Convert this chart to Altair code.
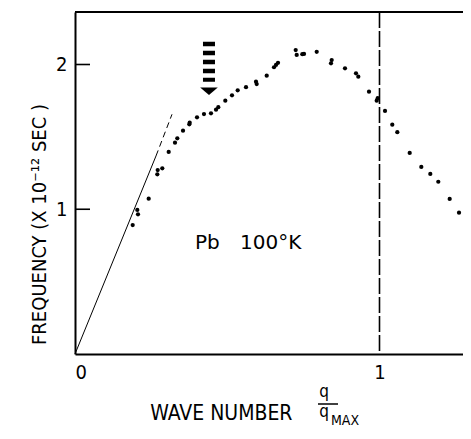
import altair as alt
import pandas as pd

# ---- data (q/qmax, frequency in 1e12 s^-1) ----
q_vals = [0.1895, 0.2046, 0.2069, 0.2420, 0.2703, 0.2716, 0.2867, 0.3077, 0.3284, 0.3360,
          0.3547, 0.3767, 0.3754, 0.4007, 0.4236, 0.4466, 0.4631, 0.4706, 0.4936, 0.5156,
          0.5343, 0.5616, 0.5944, 0.5967, 0.6296, 0.6535, 0.6601, 0.6667, 0.7248, 0.7281,
          0.7465, 0.7521, 0.7938, 0.8430, 0.8407, 0.8867, 0.9228, 0.9304, 0.9655, 0.9908,
          0.9941, 1.0181, 1.0420, 1.0585, 1.0992, 1.1373, 1.1668, 1.1931, 1.2305, 1.2611,
          1.2874]
f_vals = [0.891, 0.995, 0.965, 1.073, 1.241, 1.271, 1.283, 1.396, 1.460, 1.490,
          1.543, 1.598, 1.587, 1.635, 1.658, 1.663, 1.688, 1.705, 1.750, 1.787,
          1.822, 1.843, 1.881, 1.865, 1.923, 1.981, 1.997, 2.012, 2.100, 2.066,
          2.071, 2.073, 2.088, 2.031, 2.008, 1.974, 1.939, 1.916, 1.812, 1.750,
          1.767, 1.679, 1.584, 1.532, 1.389, 1.292, 1.244, 1.190, 1.071, 0.976,
          0.884]

# elastic (sound velocity) line: solid part and dashed continuation
solid_q = [0.0, 0.266]
solid_f = [0.0, 1.368]
dash_q = [0.266, 0.3186]
dash_f = [1.368, 1.656]

# zone boundary
zone_q = [1.0]

# arrow annotation (x, bar top, bar bottom, head)
arrow_q = [0.440]
arrow_top = [2.158]
arrow_bot = [1.881]
arrow_head = [1.8155]

# text annotation
label_texts = ["Pb", "100°K"]
label_q = [0.394, 0.542]
label_f = [0.725, 0.725]

x_ticks = [0, 1]
y_ticks = [1, 2]

W, H = 388, 342
X_MAX = W / 304.5
Y_MAX = H / 144.75

FONT = "DejaVu Sans Condensed, Liberation Sans Narrow, Roboto Condensed, DejaVu Sans, sans-serif"

xs = alt.Scale(domain=[0, X_MAX], nice=False, zero=False)
ys = alt.Scale(domain=[0, Y_MAX], nice=False, zero=False)

ax_x = alt.Axis(orient="bottom", values=x_ticks, format="d", ticks=False, grid=False,
                labelPadding=8, labelFontSize=20, labelFont=FONT, labelColor="black",
                domainColor="black", domainWidth=2,
                title="WAVE NUMBER", titleFont=FONT, titleFontSize=21,
                titleFontWeight="normal", titleColor="black",
                titleAlign="right", titleAnchor="start", titleX=217, titleY=65,
                titleBaseline="alphabetic")
ax_y = alt.Axis(orient="left", values=y_ticks, format="d", ticks=False, grid=False,
                labelPadding=8, labelFontSize=20, labelFont=FONT, labelColor="black",
                domainColor="black", domainWidth=2,
                title="FREQUENCY (X 10⁻¹²  SEC )", titleFont=FONT, titleFontSize=20,
                titleFontWeight="normal", titleColor="black",
                titleAngle=270, titleX=-36, titleY=212, titleAlign="center",
                titleBaseline="middle")


def X(field):
    return alt.X(field, scale=xs, axis=ax_x)


def Y(field):
    return alt.Y(field, scale=ys, axis=ax_y)


pts = pd.DataFrame({"q": q_vals, "f": f_vals})
dots = alt.Chart(pts).mark_circle(size=18, color="black", opacity=1).encode(
    x=X("q:Q"), y=Y("f:Q"))

solid = alt.Chart(pd.DataFrame({"q": solid_q, "f": solid_f})).mark_line(
    color="black", strokeWidth=1).encode(x=X("q:Q"), y=Y("f:Q"))

dashed = alt.Chart(pd.DataFrame({"q": dash_q, "f": dash_f})).mark_line(
    color="black", strokeWidth=1, strokeDash=[6, 4]).encode(x=X("q:Q"), y=Y("f:Q"))

zone = alt.Chart(pd.DataFrame({"q": zone_q})).mark_rule(
    color="black", strokeWidth=1.6, strokeDash=[16, 3]).encode(
    x=X("q:Q"), y=alt.value(0), y2=alt.value(H))

arrow_df = pd.DataFrame({"q": arrow_q, "top": arrow_top, "bot": arrow_bot, "head": arrow_head})
arrow_bars = alt.Chart(arrow_df).mark_rule(
    color="black", strokeWidth=12, strokeDash=[4.5, 4.5], strokeCap="butt").encode(
    x=X("q:Q"), y=Y("top:Q"), y2="bot:Q")
arrow_tip = alt.Chart(arrow_df).mark_point(
    shape="M-1,-0.43L1,-0.43L0,0.43Z", filled=True, color="black", opacity=1,
    size=310, strokeWidth=0).encode(x=X("q:Q"), y=Y("head:Q"))

labels = alt.Chart(pd.DataFrame({"q": label_q, "f": label_f, "t": label_texts})).mark_text(
    font="DejaVu Sans", fontSize=20, align="left", baseline="alphabetic", color="black").encode(
    x=X("q:Q"), y=Y("f:Q"), text="t:N")

inticks = alt.Chart(pd.DataFrame({"f": y_ticks})).mark_rule(
    color="black", strokeWidth=1.6).encode(
    y=Y("f:Q"), x=alt.value(0), x2=alt.value(15))

frame_top = alt.Chart(pd.DataFrame({"a": [0]})).mark_rule(
    color="black", strokeWidth=2).encode(
    x=alt.value(0), x2=alt.value(W), y=alt.value(0))

# fraction q / q_MAX beside the x title
frac_df = pd.DataFrame({"a": [0]})
q_top = alt.Chart(frac_df).mark_text(text="q", font=FONT, fontSize=17, align="center",
                                     baseline="alphabetic", color="black").encode(
    x=alt.value(249), y=alt.value(385))
frac_bar = alt.Chart(frac_df).mark_rule(color="black", strokeWidth=1.5).encode(
    x=alt.value(243), x2=alt.value(263), y=alt.value(392))
q_bot = alt.Chart(frac_df).mark_text(text="q", font=FONT, fontSize=17, align="center",
                                     baseline="alphabetic", color="black").encode(
    x=alt.value(249), y=alt.value(405))
q_max = alt.Chart(frac_df).mark_text(text="MAX", font=FONT, fontSize=14, align="left",
                                     baseline="alphabetic", color="black").encode(
    x=alt.value(256), y=alt.value(413))

chart = alt.layer(
    dots, solid, dashed, zone, arrow_bars, arrow_tip, labels, inticks, frame_top,
    q_top, frac_bar, q_bot, q_max
).properties(
    width=W, height=H,
    background="white",
    view=alt.ViewBackground(stroke="transparent", strokeWidth=0),
    autosize=alt.AutoSizeParams(type="none"),
    padding={"left": 67, "top": 4, "right": 0, "bottom": 75},
).configure_view(stroke="white", strokeOpacity=0, strokeWidth=0)

chart.save("out.html", embed_options={"renderer": "svg", "actions": False})
